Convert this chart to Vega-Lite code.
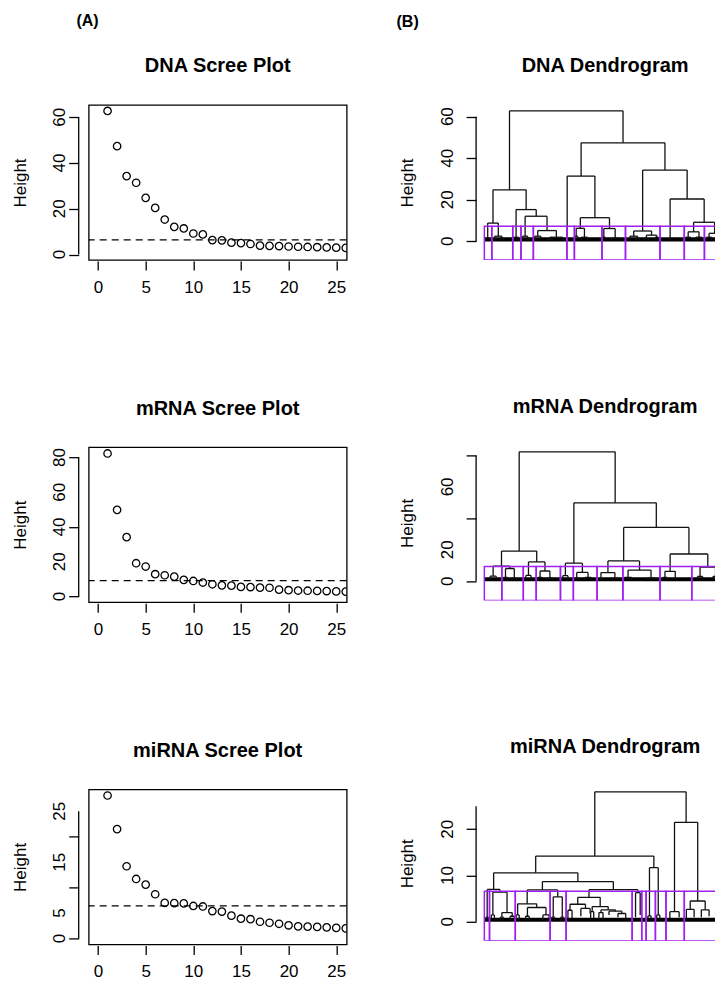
{
  "$schema": "https://vega.github.io/schema/vega-lite/v6.json",
  "padding": {"left": 9.7, "top": 13, "right": 0, "bottom": 0},
  "background": "white",
  "spacing": 47.4,
  "datasets": {
    "dna_scree": [{"pc":1,"height":62.8},{"pc":2,"height":47.4},{"pc":3,"height":34.3},{"pc":4,"height":31.4},{"pc":5,"height":24.8},{"pc":6,"height":20.4},{"pc":7,"height":15.3},{"pc":8,"height":12.1},{"pc":9,"height":11.4},{"pc":10,"height":9.2},{"pc":11,"height":8.8},{"pc":12,"height":6.3},{"pc":13,"height":6.2},{"pc":14,"height":5.2},{"pc":15,"height":5.0},{"pc":16,"height":4.6},{"pc":17,"height":3.9},{"pc":18,"height":3.8},{"pc":19,"height":3.7},{"pc":20,"height":3.5},{"pc":21,"height":3.4},{"pc":22,"height":3.3},{"pc":23,"height":3.2},{"pc":24,"height":3.1},{"pc":25,"height":3.0},{"pc":26,"height":2.9}],
    "mrna_scree": [{"pc":1,"height":82.3},{"pc":2,"height":49.9},{"pc":3,"height":34.2},{"pc":4,"height":19.2},{"pc":5,"height":17.3},{"pc":6,"height":12.9},{"pc":7,"height":12.3},{"pc":8,"height":11.5},{"pc":9,"height":9.6},{"pc":10,"height":9.0},{"pc":11,"height":8.1},{"pc":12,"height":7.1},{"pc":13,"height":6.5},{"pc":14,"height":6.3},{"pc":15,"height":5.6},{"pc":16,"height":5.5},{"pc":17,"height":5.2},{"pc":18,"height":5.1},{"pc":19,"height":4.0},{"pc":20,"height":3.7},{"pc":21,"height":3.5},{"pc":22,"height":3.4},{"pc":23,"height":3.3},{"pc":24,"height":3.2},{"pc":25,"height":3.0},{"pc":26,"height":2.9}],
    "mirna_scree": [{"pc":1,"height":28.1},{"pc":2,"height":21.5},{"pc":3,"height":14.2},{"pc":4,"height":11.7},{"pc":5,"height":10.6},{"pc":6,"height":8.7},{"pc":7,"height":7.0},{"pc":8,"height":6.95},{"pc":9,"height":6.9},{"pc":10,"height":6.4},{"pc":11,"height":6.3},{"pc":12,"height":5.4},{"pc":13,"height":5.3},{"pc":14,"height":4.5},{"pc":15,"height":3.9},{"pc":16,"height":3.8},{"pc":17,"height":3.3},{"pc":18,"height":3.1},{"pc":19,"height":2.9},{"pc":20,"height":2.6},{"pc":21,"height":2.4},{"pc":22,"height":2.35},{"pc":23,"height":2.3},{"pc":24,"height":2.2},{"pc":25,"height":2.1},{"pc":26,"height":2.0}],
    "dna_cut": [{"cut": 6.4}],
    "mrna_cut": [{"cut": 9.2}],
    "mirna_cut": [{"cut": 6.4}],
    "dna_ylab": [{"v":0},{"v":20},{"v":40},{"v":60}],
    "mrna_ylab": [{"v":0},{"v":20},{"v":40},{"v":60},{"v":80}],
    "mirna_ylab": [{"v":0},{"v":5},{"v":15},{"v":25}],
    "dnad_ylab": [{"v":0},{"v":20},{"v":40},{"v":60}],
    "mrnad_ylab": [{"v":0},{"v":20},{"v":60}],
    "mirnad_ylab": [{"v":0},{"v":10},{"v":20}],
    "dna_merge": [
      {"xl":12.95,"xr":56.95,"h":62.8,"hl":24.8,"hr":47.4},
      {"xl":6.55,"xr":19.4,"h":24.8,"hl":8.8,"hr":15.3},
      {"xl":4.5,"xr":8.6,"h":8.8,"hl":1.5,"hr":2.5},
      {"xl":15.5,"xr":23.3,"h":15.3,"hl":2.0,"hr":12.1},
      {"xl":19.0,"xr":27.5,"h":12.1,"hl":2.5,"hr":5.2},
      {"xl":23.9,"xr":31.1,"h":5.2,"hl":2.5,"hr":2.0},
      {"xl":40.7,"xr":73.2,"h":47.4,"hl":31.4,"hr":34.3},
      {"xl":35.3,"xr":46.05,"h":31.4,"hl":0.6,"hr":11.4},
      {"xl":40.4,"xr":51.7,"h":11.4,"hl":6.3,"hr":6.2},
      {"xl":38.8,"xr":42.0,"h":6.3,"hl":2.5,"hr":2.0},
      {"xl":49.5,"xr":53.9,"h":6.2,"hl":2.0,"hr":1.5},
      {"xl":64.55,"xr":81.8,"h":34.3,"hl":5.0,"hr":20.4},
      {"xl":61.1,"xr":68.0,"h":5.0,"hl":2.5,"hr":3.0},
      {"xl":75.2,"xr":88.4,"h":20.4,"hl":0.6,"hr":9.2},
      {"xl":84.3,"xr":92.45,"h":9.2,"hl":4.6,"hr":3.9},
      {"xl":82.2,"xr":86.4,"h":4.6,"hl":2.0,"hr":2.0},
      {"xl":90.3,"xr":94.6,"h":3.9,"hl":2.0,"hr":2.0},
      {"xl":3.7,"xr":5.3,"h":1.5,"hl":0.4,"hr":0.4},
      {"xl":7.2,"xr":10.0,"h":2.5,"hl":1.2,"hr":1.5},
      {"xl":6.6,"xr":7.8,"h":1.2,"hl":0.4,"hr":0.4},
      {"xl":9.3,"xr":10.7,"h":1.5,"hl":0.4,"hr":0.6},
      {"xl":14.5,"xr":16.5,"h":2.0,"hl":0.8,"hr":1.0},
      {"xl":18.0,"xr":20.0,"h":2.5,"hl":1.0,"hr":1.2},
      {"xl":19.4,"xr":20.6,"h":1.2,"hl":0.4,"hr":0.4},
      {"xl":22.7,"xr":25.1,"h":2.5,"hl":1.4,"hr":1.0},
      {"xl":22.3,"xr":23.1,"h":1.4,"hl":0.4,"hr":0.4},
      {"xl":28.6,"xr":33.6,"h":2.0,"hl":1.0,"hr":0.8},
      {"xl":27.6,"xr":29.6,"h":1.0,"hl":0.4,"hr":0.4},
      {"xl":38.2,"xr":39.4,"h":2.5,"hl":1.0,"hr":0.8},
      {"xl":40.8,"xr":43.2,"h":2.0,"hl":1.0,"hr":1.2},
      {"xl":48.9,"xr":50.1,"h":2.0,"hl":1.0,"hr":0.8},
      {"xl":52.5,"xr":55.3,"h":1.5,"hl":0.8,"hr":0.6},
      {"xl":59.6,"xr":62.6,"h":2.5,"hl":1.2,"hr":1.5},
      {"xl":62.0,"xr":63.2,"h":1.5,"hl":0.5,"hr":0.5},
      {"xl":66.0,"xr":70.0,"h":3.0,"hl":1.5,"hr":2.0},
      {"xl":65.2,"xr":66.8,"h":1.5,"hl":0.5,"hr":0.5},
      {"xl":69.4,"xr":70.6,"h":2.0,"hl":0.5,"hr":0.5},
      {"xl":81.2,"xr":83.2,"h":2.0,"hl":0.8,"hr":1.0},
      {"xl":85.2,"xr":87.6,"h":2.0,"hl":1.0,"hr":0.8},
      {"xl":89.3,"xr":91.3,"h":2.0,"hl":0.8,"hr":0.8}
    ],
    "dna_rect": [
      {"x1":3.2,"x2":6.1,"top":7.3,"bottom":-8.95},
      {"x1":6.1,"x2":14.2,"top":7.3,"bottom":-8.95},
      {"x1":14.2,"x2":17.4,"top":7.3,"bottom":-8.95},
      {"x1":17.4,"x2":22.2,"top":7.3,"bottom":-8.95},
      {"x1":22.2,"x2":35.2,"top":7.3,"bottom":-8.95},
      {"x1":35.2,"x2":38.1,"top":7.3,"bottom":-8.95},
      {"x1":38.1,"x2":48.8,"top":7.3,"bottom":-8.95},
      {"x1":48.8,"x2":57.9,"top":7.3,"bottom":-8.95},
      {"x1":57.9,"x2":71.3,"top":7.3,"bottom":-8.95},
      {"x1":71.3,"x2":80.7,"top":7.3,"bottom":-8.95},
      {"x1":80.7,"x2":88.5,"top":7.3,"bottom":-8.95},
      {"x1":88.5,"x2":100,"top":7.3,"bottom":-8.95}
    ],
    "dna_base": [{"x1":3.4,"x2":100,"lo":0,"hi":2.0}],
    "mrna_merge": [
      {"xl":16.7,"xr":53.9,"h":82.3,"hl":19.2,"hr":49.9},
      {"xl":9.85,"xr":23.5,"h":19.2,"hl":9.6,"hr":12.3},
      {"xl":6.6,"xr":13.1,"h":9.6,"hl":3.2,"hr":8.1},
      {"xl":5.4,"xr":7.8,"h":3.2,"hl":0.8,"hr":1.2},
      {"xl":11.4,"xr":14.8,"h":8.1,"hl":2.5,"hr":2.0},
      {"xl":10.6,"xr":12.2,"h":2.5,"hl":0.6,"hr":0.8},
      {"xl":13.9,"xr":15.7,"h":2.0,"hl":0.6,"hr":0.6},
      {"xl":20.3,"xr":26.7,"h":12.3,"hl":3.7,"hr":6.5},
      {"xl":19.3,"xr":21.3,"h":3.7,"hl":1.0,"hr":1.2},
      {"xl":24.8,"xr":28.6,"h":6.5,"hl":2.5,"hr":2.0},
      {"xl":24.0,"xr":25.6,"h":2.5,"hl":0.6,"hr":0.8},
      {"xl":27.4,"xr":29.8,"h":2.0,"hl":0.8,"hr":0.6},
      {"xl":37.9,"xr":69.85,"h":49.9,"hl":11.5,"hr":34.2},
      {"xl":34.6,"xr":41.2,"h":11.5,"hl":3.5,"hr":5.6},
      {"xl":33.6,"xr":35.6,"h":3.5,"hl":1.0,"hr":1.2},
      {"xl":39.0,"xr":43.4,"h":5.6,"hl":2.0,"hr":2.5},
      {"xl":38.2,"xr":39.8,"h":2.0,"hl":0.6,"hr":0.6},
      {"xl":42.2,"xr":44.6,"h":2.5,"hl":0.8,"hr":1.0},
      {"xl":57.2,"xr":82.5,"h":34.2,"hl":12.9,"hr":17.3},
      {"xl":51.1,"xr":63.35,"h":12.9,"hl":5.5,"hr":7.1},
      {"xl":48.4,"xr":53.8,"h":5.5,"hl":1.5,"hr":2.0},
      {"xl":47.6,"xr":49.2,"h":1.5,"hl":0.5,"hr":0.5},
      {"xl":52.8,"xr":54.8,"h":2.0,"hl":0.6,"hr":0.8},
      {"xl":58.9,"xr":67.8,"h":7.1,"hl":2.5,"hr":2.0},
      {"xl":57.5,"xr":60.3,"h":2.5,"hl":0.8,"hr":1.0},
      {"xl":66.0,"xr":69.6,"h":2.0,"hl":0.8,"hr":1.0},
      {"xl":75.2,"xr":89.8,"h":17.3,"hl":6.3,"hr":9.0},
      {"xl":73.2,"xr":77.2,"h":6.3,"hl":2.5,"hr":1.5},
      {"xl":72.4,"xr":74.0,"h":2.5,"hl":0.6,"hr":0.6},
      {"xl":86.8,"xr":92.8,"h":9.0,"hl":3.0,"hr":3.0},
      {"xl":85.8,"xr":87.8,"h":3.0,"hl":0.8,"hr":1.0},
      {"xl":91.8,"xr":93.8,"h":3.0,"hl":1.0,"hr":0.8}
    ],
    "mrna_rect": [
      {"x1":3.2,"x2":10.0,"top":9.3,"bottom":-12.2},
      {"x1":10.0,"x2":18.3,"top":9.3,"bottom":-12.2},
      {"x1":18.3,"x2":23.3,"top":9.3,"bottom":-12.2},
      {"x1":23.3,"x2":32.7,"top":9.3,"bottom":-12.2},
      {"x1":32.7,"x2":37.7,"top":9.3,"bottom":-12.2},
      {"x1":37.7,"x2":46.9,"top":9.3,"bottom":-12.2},
      {"x1":46.9,"x2":56.9,"top":9.3,"bottom":-12.2},
      {"x1":56.9,"x2":71.3,"top":9.3,"bottom":-12.2},
      {"x1":71.3,"x2":83.6,"top":9.3,"bottom":-12.2},
      {"x1":83.6,"x2":100,"top":9.3,"bottom":-12.2}
    ],
    "mrna_base": [{"x1":3.4,"x2":100,"lo":0,"hi":2.6}],
    "mirna_merge": [
      {"xl":46.0,"xr":81.4,"h":28.1,"hl":14.2,"hr":21.5},
      {"xl":23.1,"xr":68.9,"h":14.2,"hl":10.6,"hr":11.7},
      {"xl":6.8,"xr":39.45,"h":10.6,"hl":7.0,"hr":8.7},
      {"xl":4.3,"xr":9.25,"h":7.0,"hl":1.0,"hr":6.4},
      {"xl":3.8,"xr":4.8,"h":1.0,"hl":0.3,"hr":0.3},
      {"xl":6.5,"xr":12.0,"h":6.4,"hl":1.5,"hr":2.0},
      {"xl":5.9,"xr":7.1,"h":1.5,"hl":0.4,"hr":0.4},
      {"xl":10.0,"xr":14.0,"h":2.0,"hl":1.0,"hr":1.2},
      {"xl":9.4,"xr":10.6,"h":1.0,"hl":0.3,"hr":0.3},
      {"xl":13.2,"xr":14.8,"h":1.2,"hl":0.3,"hr":0.3},
      {"xl":25.7,"xr":53.2,"h":8.7,"hl":6.9,"hr":6.95},
      {"xl":19.8,"xr":31.65,"h":6.9,"hl":3.9,"hr":5.4},
      {"xl":16.1,"xr":23.5,"h":3.9,"hl":1.5,"hr":3.1},
      {"xl":15.5,"xr":16.7,"h":1.5,"hl":0.4,"hr":0.4},
      {"xl":19.9,"xr":27.1,"h":3.1,"hl":1.2,"hr":1.5},
      {"xl":19.2,"xr":20.6,"h":1.2,"hl":0.3,"hr":0.3},
      {"xl":25.9,"xr":28.3,"h":1.5,"hl":0.5,"hr":0.6},
      {"xl":29.9,"xr":33.4,"h":5.4,"hl":1.0,"hr":1.0},
      {"xl":29.3,"xr":30.5,"h":1.0,"hl":0.3,"hr":0.3},
      {"xl":32.8,"xr":34.0,"h":1.0,"hl":0.3,"hr":0.3},
      {"xl":43.75,"xr":62.7,"h":6.95,"hl":5.3,"hr":6.3},
      {"xl":39.4,"xr":48.1,"h":5.3,"hl":3.8,"hr":3.3},
      {"xl":36.4,"xr":42.4,"h":3.8,"hl":2.5,"hr":2.9},
      {"xl":35.6,"xr":37.2,"h":2.5,"hl":0.5,"hr":0.8},
      {"xl":40.6,"xr":44.2,"h":2.9,"hl":1.2,"hr":1.8},
      {"xl":45.0,"xr":51.2,"h":3.3,"hl":2.2,"hr":2.6},
      {"xl":44.4,"xr":45.6,"h":2.2,"hl":0.8,"hr":0.6},
      {"xl":48.4,"xr":54.0,"h":2.6,"hl":2.0,"hr":2.3},
      {"xl":47.6,"xr":49.2,"h":2.0,"hl":0.5,"hr":0.5},
      {"xl":51.5,"xr":56.5,"h":2.3,"hl":1.5,"hr":1.8},
      {"xl":55.0,"xr":58.0,"h":1.8,"hl":1.0,"hr":0.6},
      {"xl":61.8,"xr":63.6,"h":6.3,"hl":1.0,"hr":1.5},
      {"xl":67.2,"xr":70.6,"h":11.7,"hl":1.3,"hr":1.5},
      {"xl":66.6,"xr":67.8,"h":1.3,"hl":0.3,"hr":0.3},
      {"xl":70.0,"xr":71.2,"h":1.5,"hl":0.3,"hr":0.3},
      {"xl":76.9,"xr":85.9,"h":21.5,"hl":2.2,"hr":4.5},
      {"xl":75.1,"xr":78.7,"h":2.2,"hl":0.8,"hr":1.0},
      {"xl":83.0,"xr":88.8,"h":4.5,"hl":2.7,"hr":2.6},
      {"xl":81.5,"xr":84.5,"h":2.7,"hl":0.8,"hr":1.0},
      {"xl":87.3,"xr":90.3,"h":2.6,"hl":1.0,"hr":1.2}
    ],
    "mirna_rect": [
      {"x1":3.2,"x2":5.2,"top":6.6,"bottom":-4.1},
      {"x1":5.2,"x2":15.2,"top":6.6,"bottom":-4.1},
      {"x1":15.2,"x2":28.7,"top":6.6,"bottom":-4.1},
      {"x1":28.7,"x2":34.9,"top":6.6,"bottom":-4.1},
      {"x1":34.9,"x2":60.5,"top":6.6,"bottom":-4.1},
      {"x1":60.5,"x2":64.2,"top":6.6,"bottom":-4.1},
      {"x1":64.2,"x2":65.9,"top":6.6,"bottom":-4.1},
      {"x1":65.9,"x2":69.5,"top":6.6,"bottom":-4.1},
      {"x1":69.5,"x2":73.6,"top":6.6,"bottom":-4.1},
      {"x1":73.6,"x2":80.7,"top":6.6,"bottom":-4.1},
      {"x1":80.7,"x2":100,"top":6.6,"bottom":-4.1}
    ],
    "mirna_base": [{"x1":3.4,"x2":100,"lo":0,"hi":0.9}]
  },
  "hconcat": [
    {
      "title": {"text": "(A)", "anchor": "start", "dx": 66, "fontSize": 16, "offset": 13.4, "baseline": "alphabetic"},
      "spacing": 101.2,
      "vconcat": [
        {
          "title": {"text": "DNA Scree Plot", "frame": "group", "anchor": "middle", "offset": 12.6, "baseline": "alphabetic"},
          "width": 258, "height": 155,
          "view": {"stroke": "black", "strokeWidth": 1.3},
          "layer": [
            {"data": {"name": "dna_scree"},
             "mark": {"type": "point", "shape": "circle", "filled": false, "size": 55, "strokeWidth": 1.3, "color": "black", "opacity": 1, "clip": true},
             "encoding": {
               "x": {"field": "pc", "type": "quantitative", "scale": {"domain": [-0.98, 26.1], "nice": false, "zero": false}, "axis": {"values": [0,5,10,15,20,25], "title": null}},
               "y": {"field": "height", "type": "quantitative", "scale": {"domain": [-2.4, 65.4], "nice": false, "zero": false}, "axis": {"values": [0,10,20,30,40,50,60], "labels": false, "title": "Height", "offset": 10, "titlePadding": 43}}
             }},
            {"data": {"name": "dna_cut"},
             "mark": {"type": "rule", "strokeDash": [7, 5], "strokeWidth": 1.3, "color": "black"},
             "encoding": {"y": {"field": "cut", "type": "quantitative"}}},
            {"data": {"values": [{}]},
             "mark": {"type": "rule", "strokeWidth": 1.3, "color": "black"},
             "encoding": {"x": {"datum": -2.03}, "y": {"datum": 0}, "y2": {"datum": 60}}},
            {"data": {"name": "dna_ylab"},
             "mark": {"type": "text", "angle": 270, "align": "center", "baseline": "alphabetic", "fontSize": 17, "font": "Liberation Sans", "color": "black"},
             "encoding": {"x": {"datum": -3.43}, "y": {"field": "v", "type": "quantitative"}, "text": {"field": "v", "type": "quantitative"}}}
          ]
        },
        {
          "title": {"text": "mRNA Scree Plot", "frame": "group", "anchor": "middle", "offset": 12.6, "baseline": "alphabetic"},
          "width": 258, "height": 155,
          "view": {"stroke": "black", "strokeWidth": 1.3},
          "layer": [
            {"data": {"name": "mrna_scree"},
             "mark": {"type": "point", "shape": "circle", "filled": false, "size": 55, "strokeWidth": 1.3, "color": "black", "opacity": 1, "clip": true},
             "encoding": {
               "x": {"field": "pc", "type": "quantitative", "scale": {"domain": [-0.98, 26.1], "nice": false, "zero": false}, "axis": {"values": [0,5,10,15,20,25], "title": null}},
               "y": {"field": "height", "type": "quantitative", "scale": {"domain": [-3.2, 85.9], "nice": false, "zero": false}, "axis": {"values": [0,20,40,60,80], "labels": false, "title": "Height", "offset": 10, "titlePadding": 43}}
             }},
            {"data": {"name": "mrna_cut"},
             "mark": {"type": "rule", "strokeDash": [7, 5], "strokeWidth": 1.3, "color": "black"},
             "encoding": {"y": {"field": "cut", "type": "quantitative"}}},
            {"data": {"values": [{}]},
             "mark": {"type": "rule", "strokeWidth": 1.3, "color": "black"},
             "encoding": {"x": {"datum": -2.03}, "y": {"datum": 0}, "y2": {"datum": 80}}},
            {"data": {"name": "mrna_ylab"},
             "mark": {"type": "text", "angle": 270, "align": "center", "baseline": "alphabetic", "fontSize": 17, "font": "Liberation Sans", "color": "black"},
             "encoding": {"x": {"datum": -3.43}, "y": {"field": "v", "type": "quantitative"}, "text": {"field": "v", "type": "quantitative"}}}
          ]
        },
        {
          "title": {"text": "miRNA Scree Plot", "frame": "group", "anchor": "middle", "offset": 12.6, "baseline": "alphabetic"},
          "width": 258, "height": 155,
          "view": {"stroke": "black", "strokeWidth": 1.3},
          "layer": [
            {"data": {"name": "mirna_scree"},
             "mark": {"type": "point", "shape": "circle", "filled": false, "size": 55, "strokeWidth": 1.3, "color": "black", "opacity": 1, "clip": true},
             "encoding": {
               "x": {"field": "pc", "type": "quantitative", "scale": {"domain": [-0.98, 26.1], "nice": false, "zero": false}, "axis": {"values": [0,5,10,15,20,25], "title": null}},
               "y": {"field": "height", "type": "quantitative", "scale": {"domain": [-1.15, 29.3], "nice": false, "zero": false}, "axis": {"values": [0,5,10,15,20,25], "labels": false, "title": "Height", "offset": 10, "titlePadding": 43}}
             }},
            {"data": {"name": "mirna_cut"},
             "mark": {"type": "rule", "strokeDash": [7, 5], "strokeWidth": 1.3, "color": "black"},
             "encoding": {"y": {"field": "cut", "type": "quantitative"}}},
            {"data": {"values": [{}]},
             "mark": {"type": "rule", "strokeWidth": 1.3, "color": "black"},
             "encoding": {"x": {"datum": -2.03}, "y": {"datum": 0}, "y2": {"datum": 25}}},
            {"data": {"name": "mirna_ylab"},
             "mark": {"type": "text", "angle": 270, "align": "center", "baseline": "alphabetic", "fontSize": 17, "font": "Liberation Sans", "color": "black"},
             "encoding": {"x": {"datum": -3.43}, "y": {"field": "v", "type": "quantitative"}, "text": {"field": "v", "type": "quantitative"}}}
          ]
        }
      ]
    },
    {
      "title": {"text": "(B)", "anchor": "start", "dx": -1.5, "fontSize": 16, "offset": 13.4, "baseline": "alphabetic"},
      "spacing": 136.4,
      "vconcat": [
        {
          "title": {"text": "DNA Dendrogram", "frame": "group", "anchor": "middle", "offset": 12.6, "baseline": "alphabetic", "dx": 9},
          "width": 240, "height": 155,
          "layer": [
            {"data": {"name": "dna_base"},
             "mark": {"type": "rect", "color": "black", "clip": true},
             "encoding": {
               "x": {"field": "x1", "type": "quantitative", "scale": {"domain": [0, 93.02], "nice": false, "zero": false}, "axis": null},
               "x2": {"field": "x2"},
               "y": {"field": "lo", "type": "quantitative", "scale": {"domain": [-8.95, 65.6], "nice": false, "zero": false}, "axis": {"values": [0,10,20,30,40,50,60], "labels": false, "title": "Height", "offset": 0, "titlePadding": 53.4}},
               "y2": {"field": "hi"}
             }},
            {"data": {"name": "dna_merge"},
             "mark": {"type": "rule", "color": "#111111", "strokeWidth": 1.3, "clip": true},
             "encoding": {"x": {"field": "xl", "type": "quantitative", "axis": null}, "x2": {"field": "xr"}, "y": {"field": "h", "type": "quantitative"}}},
            {"data": {"name": "dna_merge"},
             "mark": {"type": "rule", "color": "#111111", "strokeWidth": 1.3, "clip": true},
             "encoding": {"x": {"field": "xl", "type": "quantitative", "axis": null}, "y": {"field": "h", "type": "quantitative"}, "y2": {"field": "hl"}}},
            {"data": {"name": "dna_merge"},
             "mark": {"type": "rule", "color": "#111111", "strokeWidth": 1.3, "clip": true},
             "encoding": {"x": {"field": "xr", "type": "quantitative", "axis": null}, "y": {"field": "h", "type": "quantitative"}, "y2": {"field": "hr"}}},
            {"data": {"name": "dna_rect"},
             "mark": {"type": "rect", "fill": "transparent", "stroke": "#A020F0", "strokeWidth": 1.5, "clip": true},
             "encoding": {"x": {"field": "x1", "type": "quantitative", "axis": null}, "x2": {"field": "x2"}, "y": {"field": "top", "type": "quantitative"}, "y2": {"field": "bottom"}}},
            {"data": {"values": [{}]},
             "mark": {"type": "rule", "strokeWidth": 1.3, "color": "black"},
             "encoding": {"x": {"datum": 0, "axis": null}, "y": {"datum": 0}, "y2": {"datum": 60}}},
            {"data": {"name": "dnad_ylab"},
             "mark": {"type": "text", "angle": 270, "align": "center", "baseline": "alphabetic", "fontSize": 17, "font": "Liberation Sans", "color": "black"},
             "encoding": {"x": {"datum": -8.91, "axis": null}, "y": {"field": "v", "type": "quantitative"}, "text": {"field": "v", "type": "quantitative"}}}
          ]
        },
        {
          "title": {"text": "mRNA Dendrogram", "frame": "group", "anchor": "middle", "offset": 12.6, "baseline": "alphabetic", "dx": 9},
          "width": 240, "height": 155,
          "layer": [
            {"data": {"name": "mrna_base"},
             "mark": {"type": "rect", "color": "black", "clip": true},
             "encoding": {
               "x": {"field": "x1", "type": "quantitative", "scale": {"domain": [0, 93.02], "nice": false, "zero": false}, "axis": null},
               "x2": {"field": "x2"},
               "y": {"field": "lo", "type": "quantitative", "scale": {"domain": [-12.2, 86.4], "nice": false, "zero": false}, "axis": {"values": [0,20,40,60,80], "labels": false, "title": "Height", "offset": 0, "titlePadding": 53.4}},
               "y2": {"field": "hi"}
             }},
            {"data": {"name": "mrna_merge"},
             "mark": {"type": "rule", "color": "#111111", "strokeWidth": 1.3, "clip": true},
             "encoding": {"x": {"field": "xl", "type": "quantitative", "axis": null}, "x2": {"field": "xr"}, "y": {"field": "h", "type": "quantitative"}}},
            {"data": {"name": "mrna_merge"},
             "mark": {"type": "rule", "color": "#111111", "strokeWidth": 1.3, "clip": true},
             "encoding": {"x": {"field": "xl", "type": "quantitative", "axis": null}, "y": {"field": "h", "type": "quantitative"}, "y2": {"field": "hl"}}},
            {"data": {"name": "mrna_merge"},
             "mark": {"type": "rule", "color": "#111111", "strokeWidth": 1.3, "clip": true},
             "encoding": {"x": {"field": "xr", "type": "quantitative", "axis": null}, "y": {"field": "h", "type": "quantitative"}, "y2": {"field": "hr"}}},
            {"data": {"name": "mrna_rect"},
             "mark": {"type": "rect", "fill": "transparent", "stroke": "#A020F0", "strokeWidth": 1.5, "clip": true},
             "encoding": {"x": {"field": "x1", "type": "quantitative", "axis": null}, "x2": {"field": "x2"}, "y": {"field": "top", "type": "quantitative"}, "y2": {"field": "bottom"}}},
            {"data": {"values": [{}]},
             "mark": {"type": "rule", "strokeWidth": 1.3, "color": "black"},
             "encoding": {"x": {"datum": 0, "axis": null}, "y": {"datum": 0}, "y2": {"datum": 80}}},
            {"data": {"name": "mrnad_ylab"},
             "mark": {"type": "text", "angle": 270, "align": "center", "baseline": "alphabetic", "fontSize": 17, "font": "Liberation Sans", "color": "black"},
             "encoding": {"x": {"datum": -8.91, "axis": null}, "y": {"field": "v", "type": "quantitative"}, "text": {"field": "v", "type": "quantitative"}}}
          ]
        },
        {
          "title": {"text": "miRNA Dendrogram", "frame": "group", "anchor": "middle", "offset": 12.6, "baseline": "alphabetic", "dx": 9},
          "width": 240, "height": 155,
          "layer": [
            {"data": {"name": "mirna_base"},
             "mark": {"type": "rect", "color": "black", "clip": true},
             "encoding": {
               "x": {"field": "x1", "type": "quantitative", "scale": {"domain": [0, 93.02], "nice": false, "zero": false}, "axis": null},
               "x2": {"field": "x2"},
               "y": {"field": "lo", "type": "quantitative", "scale": {"domain": [-4.1, 29.4], "nice": false, "zero": false}, "axis": {"values": [0,5,10,15,20,25], "labels": false, "title": "Height", "offset": 0, "titlePadding": 53.4}},
               "y2": {"field": "hi"}
             }},
            {"data": {"name": "mirna_merge"},
             "mark": {"type": "rule", "color": "#111111", "strokeWidth": 1.3, "clip": true},
             "encoding": {"x": {"field": "xl", "type": "quantitative", "axis": null}, "x2": {"field": "xr"}, "y": {"field": "h", "type": "quantitative"}}},
            {"data": {"name": "mirna_merge"},
             "mark": {"type": "rule", "color": "#111111", "strokeWidth": 1.3, "clip": true},
             "encoding": {"x": {"field": "xl", "type": "quantitative", "axis": null}, "y": {"field": "h", "type": "quantitative"}, "y2": {"field": "hl"}}},
            {"data": {"name": "mirna_merge"},
             "mark": {"type": "rule", "color": "#111111", "strokeWidth": 1.3, "clip": true},
             "encoding": {"x": {"field": "xr", "type": "quantitative", "axis": null}, "y": {"field": "h", "type": "quantitative"}, "y2": {"field": "hr"}}},
            {"data": {"name": "mirna_rect"},
             "mark": {"type": "rect", "fill": "transparent", "stroke": "#A020F0", "strokeWidth": 1.5, "clip": true},
             "encoding": {"x": {"field": "x1", "type": "quantitative", "axis": null}, "x2": {"field": "x2"}, "y": {"field": "top", "type": "quantitative"}, "y2": {"field": "bottom"}}},
            {"data": {"values": [{}]},
             "mark": {"type": "rule", "strokeWidth": 1.3, "color": "black"},
             "encoding": {"x": {"datum": 0, "axis": null}, "y": {"datum": 0}, "y2": {"datum": 25}}},
            {"data": {"name": "mirnad_ylab"},
             "mark": {"type": "text", "angle": 270, "align": "center", "baseline": "alphabetic", "fontSize": 17, "font": "Liberation Sans", "color": "black"},
             "encoding": {"x": {"datum": -8.91, "axis": null}, "y": {"field": "v", "type": "quantitative"}, "text": {"field": "v", "type": "quantitative"}}}
          ]
        }
      ]
    }
  ],
  "config": {
    "font": "Liberation Sans",
    "view": {"stroke": null},
    "title": {"font": "Liberation Sans", "fontSize": 20, "fontWeight": "bold", "color": "black"},
    "axis": {"grid": false, "domain": false, "tickColor": "black", "tickWidth": 1.3, "labelColor": "black", "labelFont": "Liberation Sans", "labelFontSize": 17, "titleFont": "Liberation Sans", "titleFontSize": 17, "titleFontWeight": "normal", "titleColor": "black", "labelOverlap": false, "labelFlush": false},
    "axisY": {"tickSize": 10, "titleBaseline": "alphabetic"},
    "axisX": {"labelAngle": 0, "labelAlign": "center", "labelBaseline": "top", "tickSize": 9, "offset": 1, "labelPadding": 9}
  }
}
